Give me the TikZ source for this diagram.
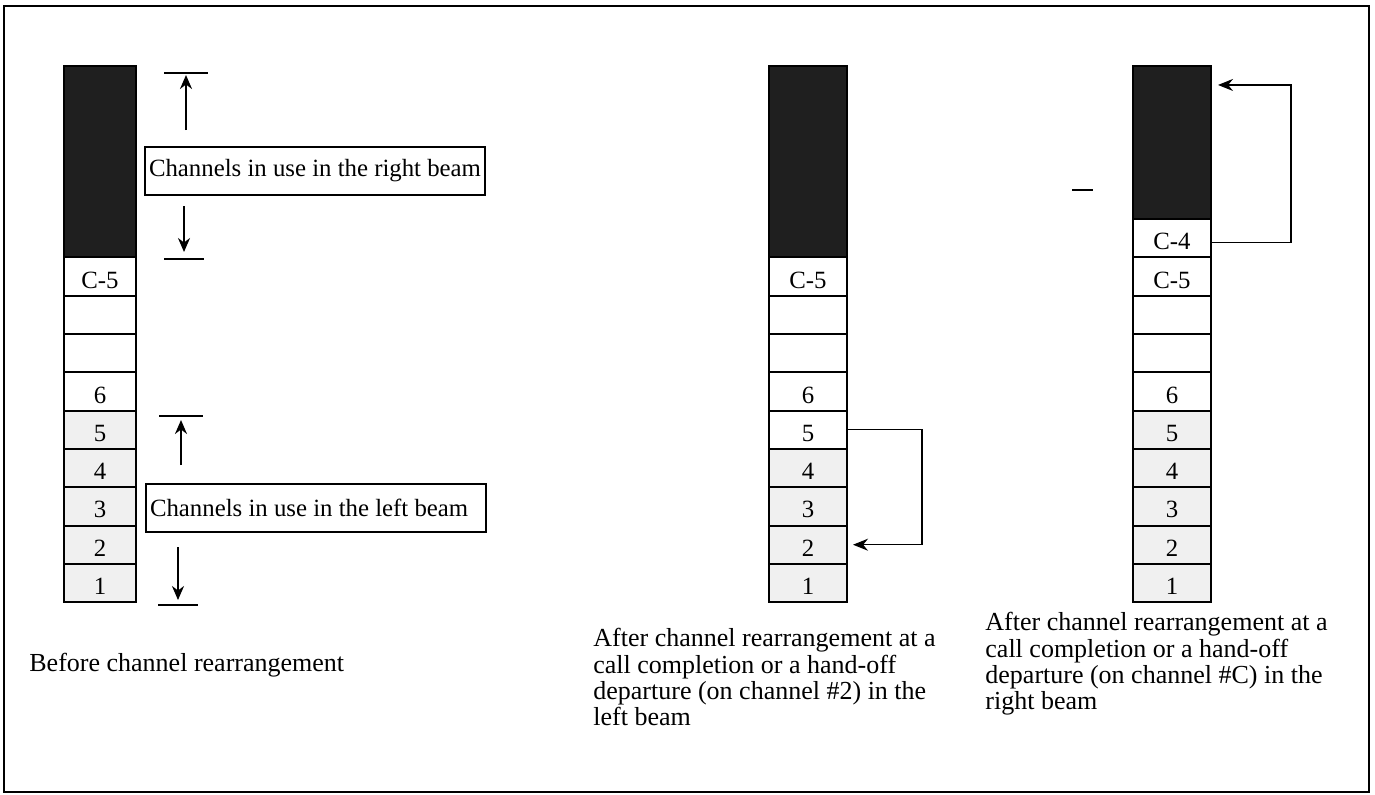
\documentclass[tikz,border=0pt]{standalone}
\usepackage{fontspec}
\setmainfont{Liberation Serif}
\usepackage{xcolor}
\usepackage{tikz}
\usetikzlibrary{positioning, arrows.meta}

\begin{document}
\begin{tikzpicture}[x=0.5pt, y=-0.5pt,
            cell/.style={rectangle, draw, line width=1pt, minimum width=36pt, minimum height=19.15pt,
                         inner sep=0pt, outer sep=0pt, text height=11.5pt, text depth=0pt, font=\fontsize{12.4}{14}\selectfont},
            wide/.style={cell, minimum width=39pt},
            used/.style={fill=gray!12},
            busy/.style={fill=black!88},
            beamtag/.style={rectangle, draw, line width=1pt, minimum height=24pt, minimum width=170pt,
                            inner xsep=2pt, font=\fontsize{12.4}{14}\selectfont},
            caption/.style={align=left, inner sep=0pt, font=\fontsize{13}{13.2}\selectfont},
            arr/.style={line width=1pt, -{Stealth[length=7pt, width=6pt]}},
            route/.style={line width=0.6pt, -{Stealth[length=7.5pt, width=6pt]}},
            endbar/.style={line width=0.8pt},
            node distance=0pt
        ]
        \useasboundingbox (0,0) rectangle (1375,794);
        \draw[line width=1pt] (4,6) rectangle (1369,792);

            % Before
            \node[cell, used] (l1) at (100,583) {1};
            \node[cell, used, above=of l1] (l2) {2};
            \node[cell, used, above=of l2] (l3) {3};
            \node[cell, used, above=of l3] (l4) {4};
            \node[cell, used, above=of l4] (l5) {5};
            \node[cell, above=of l5] (l6) {6};
            \node[cell, above=of l6] (le1) {};
            \node[cell, above=of le1] (le2) {};
            \node[cell, above=of le2] (lc5) {C-5};
            \node[cell, busy, minimum height=95.75pt, above=of lc5] (lbusy) {};

            \node[beamtag, anchor=west] (rtag) at (144,171) {\makebox[166pt][l]{Channels in use in the right beam}};
            \node[beamtag, anchor=west] (ltag) at (145,508) {\makebox[166pt][l]{Channels in use in the left beam}};
            \coordinate (rtop) at (186,73);
            \coordinate (rbot) at (184,259);
            \coordinate (ltop) at (181,416);
            \coordinate (lbot) at (178,605);
            \draw[endbar] ([xshift=-11pt]rtop) -- ([xshift=11pt]rtop);
            \draw[endbar] ([xshift=-10pt]rbot) -- ([xshift=10pt]rbot);
            \draw[endbar] ([xshift=-11pt]ltop) -- ([xshift=11pt]ltop);
            \draw[endbar] ([xshift=-10pt]lbot) -- ([xshift=10pt]lbot);
            \draw[arr, shorten <=8pt, shorten >=1pt] (rtag.north -| rtop) -- (rtop);
            \draw[arr, shorten <=5pt, shorten >=3.5pt] (rtag.south -| rbot) -- (rbot);
            \draw[arr, shorten <=9pt, shorten >=2pt] (ltag.north -| ltop) -- (ltop);
            \draw[arr, shorten <=7pt, shorten >=2.5pt] (ltag.south -| lbot) -- (lbot);

            \node[caption, anchor=base west] (before) at (29,671) {Before channel rearrangement};

            % After, left beam
            \node[wide, used] (m1) at (808,583) {1};
            \node[wide, used, above=of m1] (m2) {2};
            \node[wide, used, above=of m2] (m3) {3};
            \node[wide, used, above=of m3] (m4) {4};
            \node[wide, above=of m4] (m5) {5};
            \node[wide, above=of m5] (m6) {6};
            \node[wide, above=of m6] (me1) {};
            \node[wide, above=of me1] (me2) {};
            \node[wide, above=of me2] (mc5) {C-5};
            \node[wide, busy, minimum height=95.75pt, above=of mc5] (mbusy) {};
            \draw[route, shorten >=3pt] (m5.east) -- ++(37.5pt,0) |- (m2.east);

            \node[caption, anchor=north west] (aleft) at (593,628) {After channel rearrangement at a\\
                call completion or a hand-off\\ departure (on channel \#2) in the\\ left beam};

            % After, right beam
            \node[wide, used] (r1) at (1172,583) {1};
            \node[wide, used, above=of r1] (r2) {2};
            \node[wide, used, above=of r2] (r3) {3};
            \node[wide, used, above=of r3] (r4) {4};
            \node[wide, used, above=of r4] (r5) {5};
            \node[wide, above=of r5] (r6) {6};
            \node[wide, above=of r6] (re1) {};
            \node[wide, above=of re1] (re2) {};
            \node[wide, above=of re2] (rc5) {C-5};
            \node[wide, above=of rc5] (rc4) {C-4};
            \node[wide, busy, minimum height=76.6pt, above=of rc4] (rbusy) {};
            \draw[route, shorten >=3.5pt] ([yshift=-2pt]rc4.east) -- ++(40pt,0) |- ([yshift=-9.5pt]rbusy.north east);
            \draw[endbar] (1072,190) -- (1093,190);

            \node[caption, anchor=north west] (aright) at (985,612) {After channel rearrangement at a\\
                call completion or a hand-off\\ departure (on channel \#C) in the\\ right beam};

\end{tikzpicture}
\end{document}
